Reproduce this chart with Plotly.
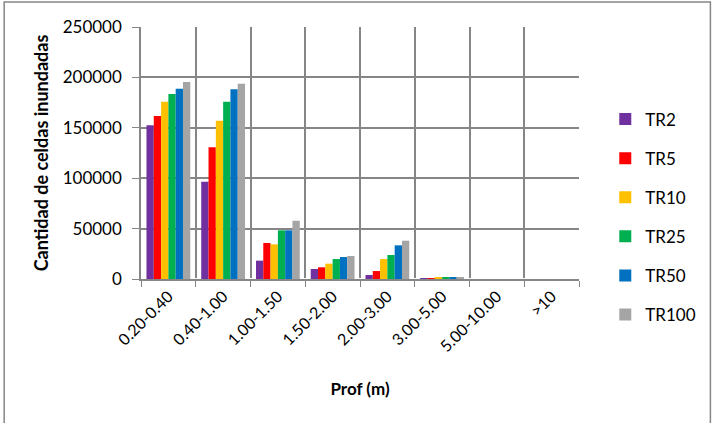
import plotly.graph_objects as go

categories = ["0.20-0.40", "0.40-1.00", "1.00-1.50", "1.50-2.00",
              "2.00-3.00", "3.00-5.00", "5.00-10.00", ">10"]
series_names = ["TR2", "TR5", "TR10", "TR25", "TR50", "TR100"]
tr2 = [152500, 96500, 18200, 9900, 4000, 200, 0, 0]
tr5 = [161700, 130600, 35700, 11600, 7900, 400, 0, 0]
tr10 = [175900, 157000, 34400, 15200, 19800, 1000, 0, 0]
tr25 = [183500, 175900, 48300, 19800, 23800, 1000, 0, 0]
tr50 = [188800, 188200, 48300, 21800, 33400, 2000, 0, 0]
tr100 = [195400, 193800, 57800, 22800, 38000, 2000, 0, 0]
colors = ["#7030A0", "#FF0000", "#FFC000", "#00B050", "#0070C0", "#A5A5A5"]

font = "Lato, 'Open Sans', sans-serif"
fig = go.Figure()
for name, vals, col in zip(series_names, [tr2, tr5, tr10, tr25, tr50, tr100], colors):
    fig.add_trace(go.Bar(x=categories, y=vals, name=name, marker_color=col,
                         marker_line_width=0, legendgroup=name))

fig.update_layout(
    width=713, height=423,
    margin=dict(l=141, r=127, t=27, b=144),
    paper_bgcolor="white", plot_bgcolor="white",
    barmode="group", bargap=0.2, bargroupgap=0,
    font=dict(family=font, size=17, color="#000000"),
    legend=dict(x=1.06, y=0.246, yanchor="middle", xanchor="left",
                font=dict(size=17), tracegroupgap=14, itemwidth=30,
                bgcolor="rgba(0,0,0,0)"),
    xaxis=dict(type="category", tickson="boundaries", showgrid=True,
               gridcolor="#868686", gridwidth=1.5, showline=True,
               linecolor="#868686", linewidth=1.5, ticks="outside",
               ticklen=6, tickcolor="#868686", tickangle=-45,
               tickfont=dict(size=16), automargin=False,
               title=dict(text="<b>Prof (m)</b>", font=dict(size=17), standoff=29)),
    yaxis=dict(range=[0, 250000], dtick=50000, showgrid=True,
               gridcolor="#868686", gridwidth=1.5, showline=True,
               linecolor="#868686", linewidth=1.5, ticks="outside",
               ticklen=7, tickcolor="#868686", tickformat="d",
               ticklabelstandoff=7,
               tickfont=dict(size=17), automargin=False,
               title=dict(text="<b>Cantidad de celdas inundadas</b>",
                          font=dict(size=18), standoff=9)),
    shapes=[dict(type="rect", xref="paper", yref="paper",
                 x0=-0.3124, x1=1.3, y0=-0.6, y1=1.0992,
                 line=dict(color="#868686", width=1.5))],
)

fig.write_html("out.html", config={"displayModeBar": False},
               post_script="document.body.style.margin='0';")
